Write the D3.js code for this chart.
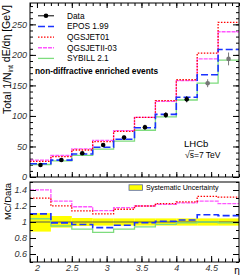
<!DOCTYPE html>
<html>
<head>
<meta charset="utf-8">
<script src="https://cdn.jsdelivr.net/npm/d3@7"></script>
<style>
  body { margin: 0; background: #fff; }
  svg { display: block; font-family: "Liberation Sans", Arial, sans-serif; }
</style>
</head>
<body>
<div id="chart"></div>
<script>
// eta bin edges
const binEdges = [1.9, 2.2, 2.5, 2.8, 3.1, 3.4, 3.7, 4.0, 4.3, 4.6, 4.9];

// measured energy flow (data), with errors; last two bins are extrapolated (grey)
const dataVal = [19.7, 27.9, 38.8, 52.5, 64.5, 81.5, 101.6, 127.4, 153.6, 193.4];
const dataErr = [1.5, 2, 2.5, 3, 3.5, 4, 4.5, 5, 6.5, 10.5];
const dataExtrapolated = [false, false, false, false, false, false, false, false, true, true];

// generator predictions
const epos = [21.7, 27.6, 37.6, 48.8, 61.9, 80.7, 102.6, 130.6, 167.4, 208.9];
const qgsjet01 = [25.6, 33.5, 44.2, 57.8, 74.8, 97.8, 125.0, 159.3, 202.8, 253.4];
const qgsjetII = [27.6, 35.2, 46.2, 59.9, 76.1, 97.8, 124.0, 158.0, 193.5, 237.9];
const sybill = [20.5, 26.5, 35.3, 45.7, 58.7, 76.6, 98.6, 126.1, 153.6, 191.5];

// systematic uncertainty band on MC/Data
const systLow = [0.88, 0.93, 0.95, 0.955, 0.955, 0.955, 0.955, 0.955, 0.955, 0.955];
const systHigh = [1.11, 1.075, 1.05, 1.045, 1.045, 1.045, 1.045, 1.045, 1.045, 1.045];

const topTicks = [0, 50, 100, 150, 200, 250];
const ratioTicks = [0.6, 0.8, 1, 1.2, 1.4];
const etaTicks = [2, 2.5, 3, 3.5, 4, 4.5];

const models = [
  { name: "SYBILL 2.1", values: sybill, color: "#7edc7e", dash: null, width: 1.3 },
  { name: "QGSJETII-03", values: qgsjetII, color: "#ff55ff", dash: "4,1", width: 1.3 },
  { name: "QGSJET01", values: qgsjet01, color: "#ff0000", dash: "1.5,1.5", width: 1.3 },
  { name: "EPOS 1.99", values: epos, color: "#1a33ff", dash: "7,3", width: 1.6 }
];
const legendOrder = ["EPOS 1.99", "QGSJET01", "QGSJETII-03", "SYBILL 2.1"];

const width = 244, height = 275;
const left = 30, right = 239;
const topY0 = 3, topY1 = 177;
const botY0 = 182, botY1 = 262;

const svg = d3.select("#chart").append("svg")
  .attr("width", width)
  .attr("height", height);

const x = d3.scaleLinear().domain([1.9, 4.9]).range([left, right]);
const yTop = d3.scaleLinear().domain([0, 285]).range([topY1, topY0]);
const yBot = d3.scaleLinear().domain([0.5, 1.5]).range([botY1, botY0]);

// step path for a binned histogram
function stepPath(vals, y) {
  let pts = [];
  vals.forEach((v, i) => {
    pts.push([x(binEdges[i]), y(v)]);
    pts.push([x(binEdges[i + 1]), y(v)]);
  });
  return d3.line()(pts);
}

function range(a, b, s) {
  let out = [];
  for (let v = a; v <= b + 1e-9; v += s) out.push(Math.round(v * 1000) / 1000);
  return out;
}

// draws inside ticks on all given sides
function drawAxis(g, axis, pos, labels) {
  let a = g.append("g").attr("transform", pos).call(axis);
  a.select(".domain").remove();
  a.selectAll("line").attr("stroke", "#000");
  a.selectAll("text")
    .attr("fill", "#333")
    .style("font-size", "9px")
    .style("font-style", "italic")
    .style("font-family", "\"Liberation Sans\", Arial, sans-serif");
  if (!labels) a.selectAll("text").remove();
  return a;
}

// ################ top panel ################
const gTop = svg.append("g");

const yMinorTop = range(0, 280, 10);
const xMinor = range(1.9, 4.9, 0.1);
const fmt = d => d3.format("")(+d.toFixed(1));

drawAxis(gTop, d3.axisLeft(yTop).tickValues(yMinorTop).tickSize(-3).tickSizeOuter(0), `translate(${left},0)`, false);
drawAxis(gTop, d3.axisLeft(yTop).tickValues(topTicks).tickSize(-6).tickSizeOuter(0).tickPadding(3).tickFormat(fmt), `translate(${left},0)`, true);
drawAxis(gTop, d3.axisRight(yTop).tickValues(yMinorTop).tickSize(-3).tickSizeOuter(0), `translate(${right},0)`, false);
drawAxis(gTop, d3.axisRight(yTop).tickValues(topTicks).tickSize(-6).tickSizeOuter(0), `translate(${right},0)`, false);
drawAxis(gTop, d3.axisBottom(x).tickValues(xMinor).tickSize(-3).tickSizeOuter(0), `translate(0,${topY1})`, false);
drawAxis(gTop, d3.axisBottom(x).tickValues(etaTicks).tickSize(-5).tickSizeOuter(0), `translate(0,${topY1})`, false);
drawAxis(gTop, d3.axisTop(x).tickValues(xMinor).tickSize(-3).tickSizeOuter(0), `translate(0,${topY0})`, false);
drawAxis(gTop, d3.axisTop(x).tickValues(etaTicks).tickSize(-5).tickSizeOuter(0), `translate(0,${topY0})`, false);

models.forEach(m => {
  gTop.append("path")
    .attr("d", stepPath(m.values, yTop))
    .attr("fill", "none")
    .attr("stroke", m.color)
    .attr("stroke-width", m.width)
    .attr("stroke-dasharray", m.dash);
});

// data points
dataVal.forEach((v, i) => {
  let cx = x((binEdges[i] + binEdges[i + 1]) / 2);
  let col = dataExtrapolated[i] ? "#777" : "#000";
  gTop.append("line")
    .attr("x1", cx).attr("x2", cx)
    .attr("y1", yTop(v - dataErr[i])).attr("y2", yTop(v + dataErr[i]))
    .attr("stroke", col).attr("stroke-width", 1);
  gTop.append("circle")
    .attr("cx", cx).attr("cy", yTop(v)).attr("r", 2.3)
    .attr("fill", col);
});

gTop.append("rect")
  .attr("x", left).attr("y", topY0)
  .attr("width", right - left).attr("height", topY1 - topY0)
  .attr("fill", "none").attr("stroke", "#000").attr("stroke-width", 1);

// legend
const legX0 = 38, legX1 = 54, legText = 67, legY = 15.8, legStep = 10.65;
const legend = gTop.append("g").style("font-size", "8.3px");
legend.append("line")
  .attr("x1", legX0).attr("x2", legX1).attr("y1", legY).attr("y2", legY)
  .attr("stroke", "#000");
legend.append("circle").attr("cx", (legX0 + legX1) / 2).attr("cy", legY).attr("r", 2.3);
legend.append("text").attr("x", legText).attr("y", legY).attr("dy", "0.35em").text("Data");
legendOrder.forEach((name, i) => {
  let m = models.find(d => d.name === name);
  let yy = legY + (i + 1) * legStep;
  legend.append("line")
    .attr("x1", legX0).attr("x2", legX1).attr("y1", yy).attr("y2", yy)
    .attr("stroke", m.color).attr("stroke-width", m.width)
    .attr("stroke-dasharray", m.dash);
  legend.append("text").attr("x", legText).attr("y", yy).attr("dy", "0.35em").text(name);
});
legend.append("text")
  .attr("x", 35).attr("y", legY + 5 * legStep + 1.7).attr("dy", "0.35em")
  .style("font-weight", "bold")
  .text("non-diffractive enriched events");

// LHCb label
gTop.append("text").attr("x", 184).attr("y", 143.5).attr("dy", "0.35em")
  .style("font-size", "9.5px").text("LHCb");
const energy = gTop.append("text").attr("x", 185).attr("y", 155.5).attr("dy", "0.35em")
  .style("font-size", "8.5px").text("\u221As=7 TeV");
{
  let node = energy.node();
  let wRoot = node.getSubStringLength(0, 1);
  let wS = node.getSubStringLength(1, 1);
  gTop.append("line")
    .attr("x1", 185 + wRoot - 0.5).attr("x2", 185 + wRoot + wS)
    .attr("y1", 150.6).attr("y2", 150.6)
    .attr("stroke", "#000").attr("stroke-width", 0.6);
}

// y title
svg.append("text")
  .attr("transform", `translate(11,${topY0 + 2}) rotate(-90)`)
  .attr("text-anchor", "end")
  .style("font-size", "10.5px")
  .call(t => {
    t.append("tspan").text("Total 1/N");
    t.append("tspan").attr("dy", "0.3em").style("font-size", "7px").text("int");
    t.append("tspan").attr("dy", "-0.3em").text(" dE/d\u03B7 [GeV]");
  });

// ################ ratio panel ################
const gBot = svg.append("g");

// systematic band
systLow.forEach((lo, i) => {
  gBot.append("rect")
    .attr("x", x(binEdges[i])).attr("width", x(binEdges[i + 1]) - x(binEdges[i]))
    .attr("y", yBot(systHigh[i])).attr("height", yBot(lo) - yBot(systHigh[i]))
    .attr("fill", "#ffff00");
});

gBot.append("line")
  .attr("x1", left).attr("x2", right).attr("y1", yBot(1)).attr("y2", yBot(1))
  .attr("stroke", "#555").attr("stroke-width", 1);

models.forEach(m => {
  let ratio = m.values.map((v, i) => v / dataVal[i]);
  gBot.append("path")
    .attr("d", stepPath(ratio, yBot))
    .attr("fill", "none")
    .attr("stroke", m.color)
    .attr("stroke-width", m.width)
    .attr("stroke-dasharray", m.dash);
});

const yMinorBot = range(0.5, 1.5, 0.1);
drawAxis(gBot, d3.axisLeft(yBot).tickValues(yMinorBot).tickSize(-3).tickSizeOuter(0), `translate(${left},0)`, false);
drawAxis(gBot, d3.axisLeft(yBot).tickValues(ratioTicks).tickSize(-6).tickSizeOuter(0).tickPadding(3).tickFormat(fmt), `translate(${left},0)`, true);
drawAxis(gBot, d3.axisRight(yBot).tickValues(yMinorBot).tickSize(-3).tickSizeOuter(0), `translate(${right},0)`, false);
drawAxis(gBot, d3.axisRight(yBot).tickValues(ratioTicks).tickSize(-6).tickSizeOuter(0), `translate(${right},0)`, false);
drawAxis(gBot, d3.axisBottom(x).tickValues(xMinor).tickSize(-3.5).tickSizeOuter(0), `translate(0,${botY1})`, false);
drawAxis(gBot, d3.axisBottom(x).tickValues(etaTicks).tickSize(-6).tickSizeOuter(0).tickPadding(3).tickFormat(fmt), `translate(0,${botY1})`, true);

gBot.append("rect")
  .attr("x", left).attr("y", botY0)
  .attr("width", right - left).attr("height", botY1 - botY0)
  .attr("fill", "none").attr("stroke", "#000").attr("stroke-width", 1);

// band legend
gBot.append("rect")
  .attr("x", 129).attr("y", 184.8).attr("width", 13.5).attr("height", 5.5)
  .attr("fill", "#ffff00").attr("stroke", "#5566aa").attr("stroke-width", 0.8);
gBot.append("text").attr("x", 146).attr("y", 187.7).attr("dy", "0.35em")
  .style("font-size", "7.1px").text("Systematic Uncertainty");

svg.append("text")
  .attr("transform", `translate(11,${botY0 + 1}) rotate(-90)`)
  .attr("text-anchor", "end")
  .style("font-size", "9.4px")
  .text("MC/Data");

svg.append("text")
  .attr("x", 237).attr("y", 270).attr("dy", "0.35em")
  .attr("text-anchor", "middle")
  .style("font-size", "10px")
  .text("\u03B7");
</script>
</body>
</html>
